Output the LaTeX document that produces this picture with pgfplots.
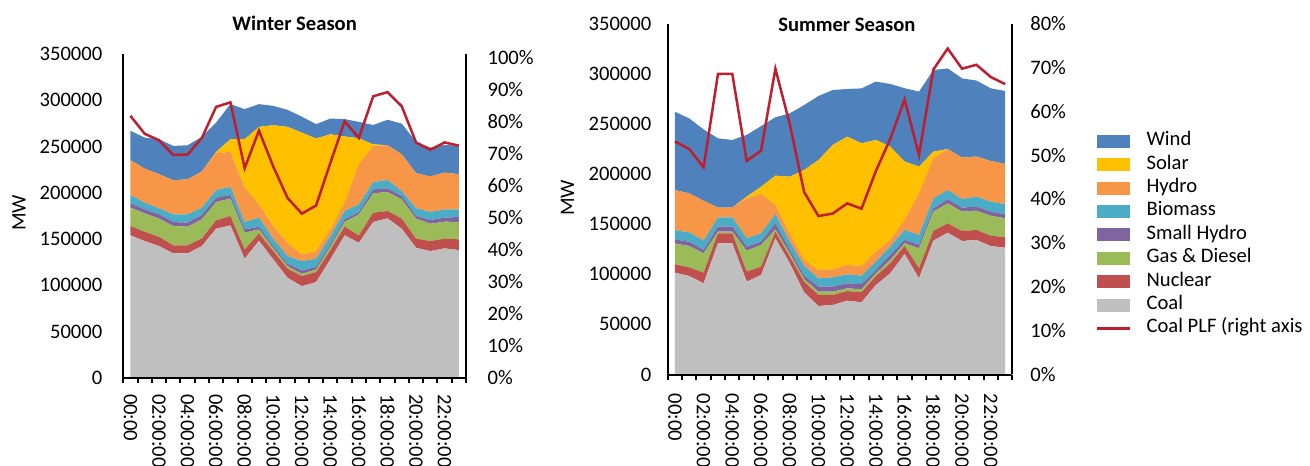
\documentclass[border=0pt]{standalone}
\usepackage{fontspec}
\setmainfont{Carlito}
\usepackage{pgfplots}
\usepackage{pgfplotstable}
\pgfplotsset{compat=1.18}

\definecolor{windc}{HTML}{4F81BD}
\definecolor{solarc}{HTML}{FFC000}
\definecolor{hydroc}{HTML}{F79646}
\definecolor{bioc}{HTML}{4BACC6}
\definecolor{shc}{HTML}{8064A2}
\definecolor{gasc}{HTML}{9BBB59}
\definecolor{nucc}{HTML}{C0504D}
\definecolor{coalc}{HTML}{BFBFBF}
\definecolor{plfc}{RGB}{190,30,45}

\pgfplotstableread{
h coal nuc gas sh bio hydro solar wind plf
0 153900 10100 19900 4700 9000 37600 0 31800 81.7
1 147700 10100 19900 4300 7200 36800 0 33600 76.1
2 142300 9800 19900 4700 6500 36800 0 37900 74.1
3 134400 8700 20900 4300 8300 36800 0 37200 69.5
4 134400 8700 20200 4300 9000 37900 0 36800 69.6
5 142300 8300 20600 4700 7900 39000 0 37600 74.8
6 161100 9000 19900 4700 8300 39700 1400 31800 84.5
7 164700 10100 18800 4000 8700 37900 13700 37900 85.9
8 128600 10100 18100 3600 7900 37200 52400 32500 65.4
9 148000 8000 4300 2900 9800 14400 83800 24600 77.1
10 127900 9000 2900 2500 7900 13700 109100 20900 65.9
11 108000 9800 2900 2500 8300 14400 125300 18400 56.1
12 99000 10800 2500 3600 10100 7200 131800 17300 51.2
13 103300 10800 2900 2900 8700 8300 121700 15500 53.7
14 127900 10100 3600 2500 9000 7200 102900 17000 67.0
15 153900 9400 5100 2900 9000 9000 71500 18800 80.0
16 145900 7900 22800 2500 8300 43300 28200 17700 74.8
17 168300 10100 20900 4300 7900 39000 1800 20900 87.8
18 172300 7900 20600 4000 9000 37600 0 27500 89.1
19 161100 10800 20900 3600 5400 39700 0 33200 84.7
20 140500 9800 21700 2900 8300 37900 0 34000 73.4
21 136900 10800 18800 4000 8700 38300 0 31400 71.1
22 139800 10500 18400 4300 9000 39700 0 30000 73.4
23 138000 11600 18800 5400 8300 37900 0 30700 72.4
}\winter

\pgfplotstableread{
h coal nuc gas sh bio hydro solar wind plf
0 101500 8300 20900 4000 9300 39900 0 78100 53.1
1 98200 8600 21300 4300 9300 38900 0 74800 51.4
2 90900 10600 19300 3300 9300 39900 0 71100 47.2
3 130800 10000 1700 5000 9300 9600 0 69100 68.5
4 130800 10000 1700 5000 9300 9600 0 67500 68.5
5 92600 10000 20900 4000 8300 39900 1700 61500 48.7
6 99200 8300 21600 3300 8300 39200 7300 60500 51.0
7 135800 6600 2300 6000 9300 9000 29300 58200 69.7
8 110900 6600 3300 3300 8300 8300 56500 63200 57.1
9 81900 10600 2700 3300 10000 5700 89700 64800 41.6
10 68300 11000 3300 5000 8300 8300 109700 63800 36.1
11 69300 10000 3300 5000 9300 8000 124000 54800 36.7
12 73600 9600 2700 5000 9000 9300 128000 47500 39.0
13 72000 10000 3000 5000 8600 9600 122300 54800 37.8
14 89200 9000 2700 3300 8300 10000 111400 58200 46.4
15 100900 10000 3300 5000 8300 6600 93100 62500 53.7
16 120200 8000 2700 3300 10000 10000 58200 73100 62.7
17 95900 10000 19900 3300 10000 41600 26600 74800 50.0
18 133500 9600 19300 3300 10000 39900 6600 81400 69.5
19 141400 9300 19900 4000 9300 40900 0 80400 74.3
20 133100 10000 19300 4000 8600 41200 0 79100 69.7
21 134100 10000 19300 4000 10000 39900 0 75800 70.6
22 128100 10300 19900 4000 10000 40600 0 72500 67.8
23 126500 10300 18900 4000 10300 39900 0 72800 66.2
}\summer

\pgfplotsset{
  /pgf/number format/assume math mode=true,
  arealeg/.style={legend image code/.code={\fill[##1] (0bp,-3.25bp) rectangle (16.5bp,3.25bp); \path[draw=none,fill=none] (0bp,0bp) -- (25bp,0bp);}},
  lineleg/.style={legend image code/.code={\draw[##1] (0bp,0bp) -- (16.5bp,0bp); \path[draw=none,fill=none] (0bp,0bp) -- (25bp,0bp);}},
  leftax/.style={
    scale only axis,
    xmin=-0.5, xmax=23.5, ymin=0, ymax=350000,
    axis x line*=bottom, axis y line*=left,
    axis line style={line width=1bp,-},
    stack plots=y, area style,
    xtick={0,2,...,22},
    xticklabels={00:00,02:00:00,04:00:00,06:00:00,08:00:00,10:00:00,12:00:00,14:00:00,16:00:00,18:00:00,20:00:00,22:00:00},
    minor xtick={-0.5,0.5,...,23.5},
    tick align=outside,
    major tick length=0pt, minor tick length=2.5bp,
    minor tick style={line width=1bp, black},
    ytick={0,50000,...,350000},
    scaled y ticks=false,
    yticklabel style={/pgf/number format/fixed, /pgf/number format/1000 sep={}, inner sep=0pt},
    xticklabel style={rotate=-90, anchor=west, inner sep=0pt},
    ylabel=MW,
    title style={font=\bfseries, anchor=base, yshift=-6pt},
  },
  rightax/.style={
    scale only axis,
    xmin=-0.5, xmax=23.5, ymin=0,
    axis y line*=right, axis x line=none,
    axis line style={line width=1bp,-},
    major tick length=0pt,
    yticklabel={\pgfmathprintnumber{\tick}\%},
    yticklabel style={inner sep=0pt},
  },
}

\newcommand{\stackareas}[1]{%
  \addplot[fill=coalc, draw=none] table[x=h,y=coal]{#1} \closedcycle;
  \addplot[fill=nucc, draw=none] table[x=h,y=nuc]{#1} \closedcycle;
  \addplot[fill=gasc, draw=none] table[x=h,y=gas]{#1} \closedcycle;
  \addplot[fill=shc, draw=none] table[x=h,y=sh]{#1} \closedcycle;
  \addplot[fill=bioc, draw=none] table[x=h,y=bio]{#1} \closedcycle;
  \addplot[fill=hydroc, draw=none] table[x=h,y=hydro]{#1} \closedcycle;
  \addplot[fill=solarc, draw=none] table[x=h,y=solar]{#1} \closedcycle;
  \addplot[fill=windc, draw=none] table[x=h,y=wind]{#1} \closedcycle;
}

\begin{document}
\fontsize{10.3bp}{12bp}\selectfont
\begin{tikzpicture}
% ---------- Winter ----------
\begin{axis}[leftax,
  at={(61.65bp,44.15bp)}, anchor=south west,
  width=171.35bp, height=161.85bp,
  yticklabel shift=10.3bp, xticklabel shift=8bp,
  ylabel style={at={(axis description cs:-0.304,0.509)}, anchor=center},
  title={Winter Season},
  title style={at={(axis description cs:0.5,1)}, yshift=11.65bp},
]
\stackareas{\winter}
\end{axis}
\begin{axis}[rightax,
  at={(61.65bp,44.15bp)}, anchor=south west,
  width=171.35bp, height=161.85bp,
  ymax=101, ytick={0,10,...,100},
  yticklabel shift=10.6bp,
]
\addplot[plfc, line width=1.25bp, mark=none] table[x=h,y=plf]{\winter};
\end{axis}
% ---------- Summer ----------
\begin{axis}[leftax,
  at={(333.85bp,45.75bp)}, anchor=south west,
  width=172.3bp, height=175.5bp,
  yticklabel shift=8bp, xticklabel shift=9.5bp,
  ylabel style={at={(axis description cs:-0.291,0.503)}, anchor=center},
  title={Summer Season},
  title style={at={(axis description cs:0.52,1)}, yshift=-4.1bp},
]
\stackareas{\summer}
\end{axis}
\begin{axis}[rightax,
  at={(333.85bp,45.75bp)}, anchor=south west,
  width=172.3bp, height=175.5bp,
  ymax=80, ytick={0,10,...,80},
  yticklabel shift=8.8bp,
  legend cell align=left,
  legend style={draw=none, fill=none, at={(1.2226,0.710)}, anchor=north west,
    nodes={inner sep=0pt, text height=8bp, text depth=3.7bp}, row sep=0pt},
  arealeg,
]
\addlegendimage{fill=windc, draw=none}
\addlegendimage{fill=solarc, draw=none}
\addlegendimage{fill=hydroc, draw=none}
\addlegendimage{fill=bioc, draw=none}
\addlegendimage{fill=shc, draw=none}
\addlegendimage{fill=gasc, draw=none}
\addlegendimage{fill=nucc, draw=none}
\addlegendimage{fill=coalc, draw=none}
\addplot[plfc, line width=1.25bp, mark=none, lineleg] table[x=h,y=plf]{\summer};
\legend{Wind,Solar,Hydro,Biomass,Small Hydro,Gas \& Diesel,Nuclear,Coal,Coal PLF (right axis}
\end{axis}
\pgfresetboundingbox
\useasboundingbox (0,0) rectangle (655bp,233bp);
\end{tikzpicture}
\end{document}
